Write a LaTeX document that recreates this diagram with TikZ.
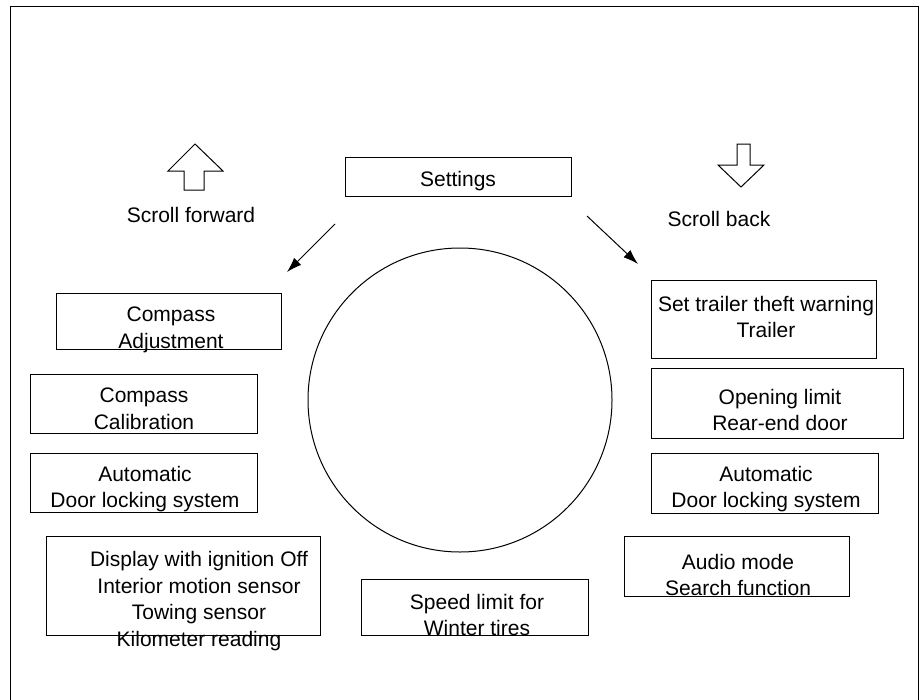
\documentclass[tikz,border=0pt]{standalone}
\usepackage{fontspec}
\setmainfont{Liberation Sans}
\usetikzlibrary{arrows.meta}

\begin{document}
\begin{tikzpicture}[x = 1pt, y = -1pt, line width = 1pt,
  menubox/.style = {draw = black, rectangle, inner sep = 0pt},
  menutext/.style = {align = center, inner sep = 0pt, font = \fontsize{21}{26.5}\selectfont},
  scrollarrow/.style = {-{Latex[length = 15pt, width = 10pt]}}]
\useasboundingbox (0,0) rectangle (923,699);
\draw (10,712) -- (10,6) -- (918,6) -- (918,712);
% block arrows
\draw (195,144) -- (223,171) -- (204,171) -- (204,190) -- (184,190) -- (184,171) -- (168,171) -- cycle;
\draw (737,144) -- (750,144) -- (750,165) -- (764,165) -- (741,187) -- (718,165) -- (737,165) -- cycle;
\node[menutext] (fwd text) at (191,215) {Scroll forward};
\node[menutext] (back text) at (719,219) {Scroll back};
% the dial
\node[draw = black, circle, inner sep = 0pt, minimum size = 304pt] (dial) at (460,400) {};
% menu boxes
\node[menubox, minimum width = 226pt, minimum height = 39pt] (settings) at (458,176.5) {};
\node[menubox, minimum width = 225pt, minimum height = 56pt] (adjust) at (168.5,321) {};
\node[menubox, minimum width = 227pt, minimum height = 59pt] (calib) at (143.5,403.5) {};
\node[menubox, minimum width = 227pt, minimum height = 59pt] (lockleft) at (143.5,482.5) {};
\node[menubox, minimum width = 274pt, minimum height = 99pt] (display) at (183,585.5) {};
\node[menubox, minimum width = 225pt, minimum height = 78pt] (trailer) at (763.5,319) {};
\node[menubox, minimum width = 252pt, minimum height = 70pt] (opening) at (777,403) {};
\node[menubox, minimum width = 227pt, minimum height = 60pt] (lockright) at (764.5,483) {};
\node[menubox, minimum width = 225pt, minimum height = 60pt] (audio) at (736.5,566) {};
\node[menubox, minimum width = 227pt, minimum height = 56pt] (speed) at (474.5,607) {};
% texts
\node[menutext] (settings text) at (458,181) {Settings};
\node[menutext] (adjust text) at (171,330) {Compass\\Adjustment};
\node[menutext] (calib text) at (144,409) {Compass\\Calibration};
\node[menutext] (lockleft text) at (145,489) {Automatic\\Door locking system};
\node[menutext] (display text) at (199,601) {Display with ignition Off\\Interior motion sensor\\Towing sensor\\Kilometer reading};
\node[menutext] (trailer text) at (766,317) {Set trailer theft warning\\Trailer};
\node[menutext] (opening text) at (780,410) {Opening limit\\Rear-end door};
\node[menutext] (lockright text) at (766,489) {Automatic\\Door locking system};
\node[menutext] (audio text) at (738,575) {Audio mode\\Search function};
\node[menutext] (speed text) at (477,615) {Speed limit for\\Winter tires};
% scroll directions
\coordinate (fwd start) at (335,224);
\coordinate (fwd end) at (287,272);
\coordinate (back start) at (587,216);
\coordinate (back end) at (638,264);
\draw[scrollarrow] (fwd start) -- (fwd end);
\draw[scrollarrow] (back start) -- (back end);
\end{tikzpicture}
\end{document}
